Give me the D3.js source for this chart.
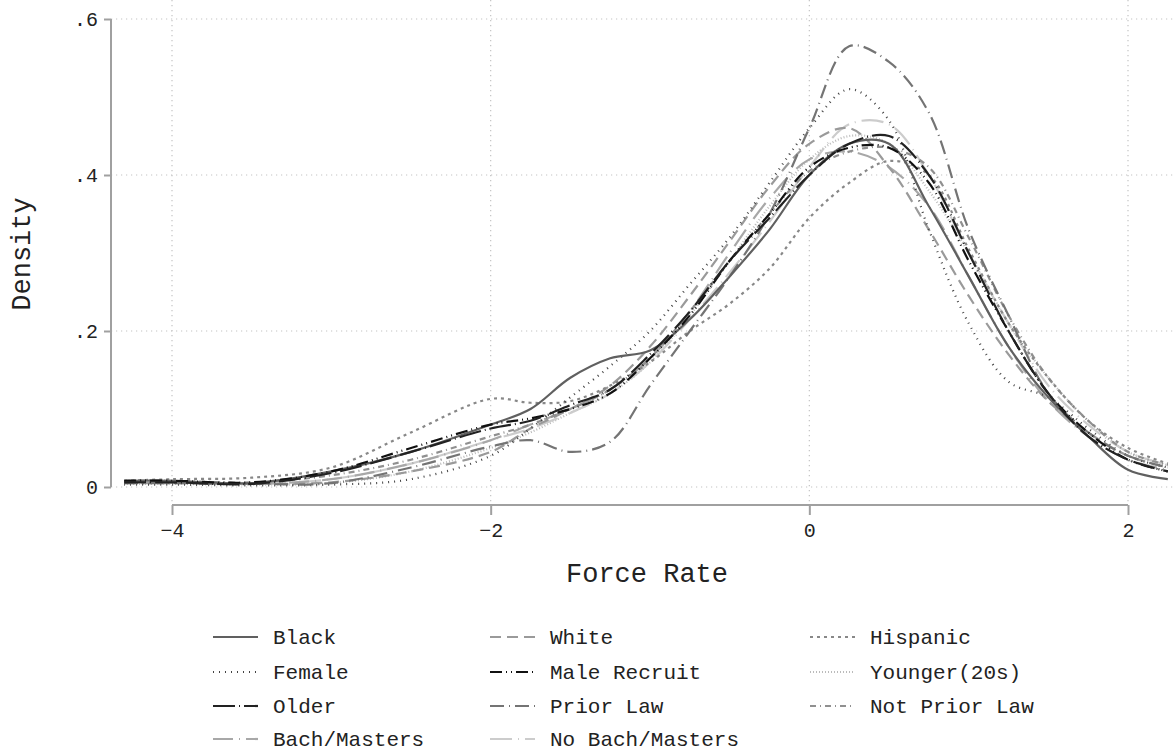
<!DOCTYPE html>
<html>
<head>
<meta charset="utf-8">
<script src="https://cdn.jsdelivr.net/npm/d3@7"></script>
<style>
  body { margin: 0; background: #fff; }
  svg { display: block; }
  text { font-family: "Liberation Mono", "Courier New", monospace; fill: #222; }
</style>
</head>
<body>
<div id="chart"></div>
<script>
/* --------------------------------------------------------------
DATOS
-------------------------------------------------------------- */

const xGrid = [-4.3, -4, -3.5, -3, -2.5, -2, -1.75, -1.5, -1.25, -1, -0.75, -0.5, -0.25,
               0, 0.25, 0.5, 0.75, 1, 1.25, 1.5, 1.75, 2, 2.25];

const black       = [0.008, 0.008, 0.005, 0.020, 0.045, 0.080, 0.100, 0.140, 0.165, 0.175, 0.215, 0.270, 0.330, 0.400, 0.440, 0.440, 0.360, 0.270, 0.180, 0.115, 0.065, 0.022, 0.010];
const white       = [0.005, 0.005, 0.004, 0.006, 0.020, 0.045, 0.075, 0.100, 0.130, 0.180, 0.245, 0.315, 0.385, 0.440, 0.460, 0.410, 0.330, 0.245, 0.170, 0.110, 0.070, 0.040, 0.025];
const hispanic    = [0.008, 0.010, 0.012, 0.025, 0.070, 0.113, 0.108, 0.110, 0.130, 0.160, 0.200, 0.235, 0.280, 0.345, 0.390, 0.418, 0.400, 0.305, 0.210, 0.140, 0.085, 0.050, 0.030];
const female      = [0.003, 0.003, 0.002, 0.003, 0.010, 0.040, 0.075, 0.115, 0.155, 0.200, 0.260, 0.320, 0.390, 0.460, 0.510, 0.470, 0.330, 0.210, 0.135, 0.115, 0.075, 0.040, 0.025];
const maleRecruit = [0.008, 0.008, 0.006, 0.020, 0.050, 0.080, 0.088, 0.100, 0.120, 0.165, 0.220, 0.290, 0.350, 0.410, 0.435, 0.435, 0.390, 0.290, 0.200, 0.120, 0.070, 0.035, 0.020];
const younger     = [0.004, 0.004, 0.003, 0.005, 0.020, 0.050, 0.070, 0.095, 0.120, 0.160, 0.220, 0.290, 0.360, 0.420, 0.450, 0.440, 0.380, 0.300, 0.210, 0.140, 0.085, 0.045, 0.028];
const older       = [0.006, 0.006, 0.004, 0.018, 0.045, 0.075, 0.085, 0.105, 0.125, 0.170, 0.225, 0.290, 0.345, 0.400, 0.440, 0.450, 0.400, 0.300, 0.200, 0.120, 0.065, 0.035, 0.020];
const priorLaw    = [0.005, 0.005, 0.004, 0.005, 0.025, 0.052, 0.060, 0.045, 0.058, 0.130, 0.200, 0.270, 0.350, 0.460, 0.565, 0.545, 0.480, 0.330, 0.220, 0.120, 0.070, 0.040, 0.025];
const notPriorLaw = [0.008, 0.008, 0.006, 0.015, 0.035, 0.065, 0.080, 0.100, 0.125, 0.165, 0.225, 0.290, 0.350, 0.405, 0.430, 0.435, 0.410, 0.320, 0.220, 0.140, 0.085, 0.045, 0.028];
const bachMasters = [0.006, 0.006, 0.004, 0.010, 0.030, 0.060, 0.080, 0.100, 0.125, 0.165, 0.225, 0.300, 0.370, 0.420, 0.430, 0.410, 0.360, 0.270, 0.180, 0.110, 0.065, 0.035, 0.022];
const noBach      = [0.006, 0.006, 0.004, 0.010, 0.030, 0.060, 0.075, 0.095, 0.120, 0.160, 0.215, 0.275, 0.340, 0.410, 0.465, 0.465, 0.400, 0.300, 0.210, 0.130, 0.080, 0.045, 0.028];

const xTicks = [-4, -2, 0, 2];
const yTicks = [0, 0.2, 0.4, 0.6];
const yTickLabels = ["0", ".2", ".4", ".6"];

/* --------------------------------------------------------------
SERIES (orden de leyenda, 3 columnas)
-------------------------------------------------------------- */

const SERIES = [
    { name: "Black",          values: black,       color: "#606060", dash: null },
    { name: "White",          values: white,       color: "#9a9a9a", dash: "11,6" },
    { name: "Hispanic",       values: hispanic,    color: "#888888", dash: "3,4" },
    { name: "Female",         values: female,      color: "#444444", dash: "1,5" },
    { name: "Male Recruit",   values: maleRecruit, color: "#111111", dash: "12,4,1,4,1,4" },
    { name: "Younger(20s)",   values: younger,     color: "#bbbbbb", dash: "1,2" },
    { name: "Older",          values: older,       color: "#222222", dash: "22,4,1,4" },
    { name: "Prior Law",      values: priorLaw,    color: "#747474", dash: "14,5,1,5" },
    { name: "Not Prior Law",  values: notPriorLaw, color: "#909090", dash: "6,4,1,4" },
    { name: "Bach/Masters",   values: bachMasters, color: "#a8a8a8", dash: "20,6,1,6" },
    { name: "No Bach/Masters",values: noBach,      color: "#cccccc", dash: "22,6,1,6" }
];

/* --------------------------------------------------------------
RENDER
-------------------------------------------------------------- */

const width = 1174, height = 754;

const svg = d3.select("#chart")
    .append("svg")
    .attr("width", width)
    .attr("height", height);

const x = d3.scaleLinear().domain([-4, 2]).range([172, 1128]);
const y = d3.scaleLinear().domain([0, 0.6]).range([487, 19]);

// gridlines
svg.append("g")
    .selectAll("line")
    .data(yTicks)
    .enter()
    .append("line")
    .attr("x1", 111).attr("x2", width)
    .attr("y1", d => y(d)).attr("y2", d => y(d))
    .attr("stroke", "#c4c4c4")
    .attr("stroke-width", 1.2)
    .attr("stroke-dasharray", "1.2,3.8");

svg.append("g")
    .selectAll("line")
    .data(xTicks)
    .enter()
    .append("line")
    .attr("x1", d => x(d)).attr("x2", d => x(d))
    .attr("y1", 0).attr("y2", 505)
    .attr("stroke", "#c4c4c4")
    .attr("stroke-width", 1.2)
    .attr("stroke-dasharray", "1.2,3.8");

// y axis
const yAxis = svg.append("g")
    .attr("transform", "translate(111,0)")
    .call(d3.axisLeft(y).tickValues(yTicks).tickSize(7).tickPadding(6)
        .tickFormat((d, i) => yTickLabels[i]));
yAxis.select(".domain").attr("d", `M0,${y(0.6)}V${y(0)}`);

// x axis
const xAxis = svg.append("g")
    .attr("transform", "translate(0,505)")
    .call(d3.axisBottom(x).tickValues(xTicks).tickSize(10).tickPadding(8)
        .tickFormat(d => d < 0 ? "\u2212" + Math.abs(d) : d));
xAxis.select(".domain").attr("d", `M${x(-4)},0H${x(2)}`);

[yAxis, xAxis].forEach(ax => {
    ax.select(".domain").attr("stroke", "#a0a0a0").attr("stroke-width", 2);
    ax.selectAll(".tick line").attr("stroke", "#a0a0a0").attr("stroke-width", 2);
    ax.selectAll(".tick text")
        .attr("font-family", "Liberation Mono, Courier New, monospace")
        .attr("font-size", 20)
        .attr("fill", "#222");
});

// titulos de ejes
svg.append("text")
    .attr("x", 647).attr("y", 582)
    .attr("text-anchor", "middle")
    .attr("font-size", 27)
    .text("Force Rate");

svg.append("text")
    .attr("transform", "translate(30,254) rotate(-90)")
    .attr("text-anchor", "middle")
    .attr("font-size", 27)
    .text("Density");

// curvas
const line = d3.line()
    .x((d, i) => x(xGrid[i]))
    .y(d => y(d))
    .curve(d3.curveCatmullRom.alpha(0.5));

const order = [5, 10, 9, 1, 8, 2, 3, 7, 0, 4, 6];
order.forEach(idx => {
    const s = SERIES[idx];
    svg.append("path")
        .datum(s.values)
        .attr("d", line)
        .attr("fill", "none")
        .attr("stroke", s.color)
        .attr("stroke-width", 2.2)
        .attr("stroke-dasharray", s.dash);
});

// leyenda
const colX = [213, 490, 810];
const rowY = [637, 672, 706, 739];

const legend = svg.append("g");
SERIES.forEach((s, i) => {
    const cx = colX[i % 3];
    const cy = rowY[Math.floor(i / 3)];
    legend.append("line")
        .attr("x1", cx).attr("x2", cx + 45)
        .attr("y1", cy).attr("y2", cy)
        .attr("stroke", s.color)
        .attr("stroke-width", 2.2)
        .attr("stroke-dasharray", s.dash);
    legend.append("text")
        .attr("x", cx + 60).attr("y", cy)
        .attr("dy", "0.35em")
        .attr("font-size", 21)
        .text(s.name);
});
</script>
</body>
</html>
